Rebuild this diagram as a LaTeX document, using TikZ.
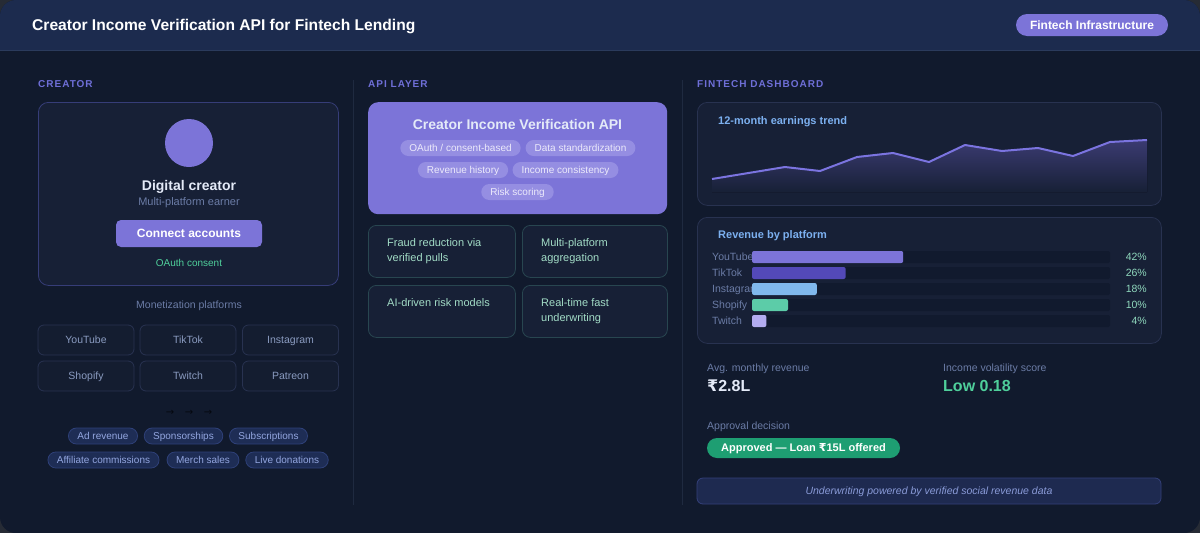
\documentclass[tikz,border=0pt]{standalone}
\usepackage{fontspec}
\setmainfont{Liberation Sans}
\newfontfamily\capsfont[LetterSpace=10]{Liberation Sans}
\newfontfamily\symfont{DejaVu Sans}
\usetikzlibrary{positioning}

\newcommand{\inr}{{\symfont ₹}}
\newcommand{\cursz}{10}
% set size and remember it, so the text height of the node follows it
\newcommand{\sz}[1]{\fontsize{#1}{#1}\selectfont\gdef\cursz{#1}}

\definecolor{outerbg}{HTML}{262B35}
\definecolor{panelbg}{HTML}{111A2D}
\definecolor{headbg}{HTML}{1C2B4E}
\definecolor{headline}{HTML}{2B3B5C}
\definecolor{cardbg}{HTML}{172036}
\definecolor{cardline}{HTML}{283250}
\definecolor{creatorline}{HTML}{363D78}
\definecolor{purple}{HTML}{7C74D8}
\definecolor{chipbg}{HTML}{958EE2}
\definecolor{chiptext}{HTML}{ECEAFB}
\definecolor{seccol}{HTML}{6F6FD8}
\definecolor{muted}{HTML}{6B7CA6}
\definecolor{softwhite}{HTML}{E4EAF8}
\definecolor{okgreen}{HTML}{4FCF9B}
\definecolor{divider}{HTML}{1F2A40}
\definecolor{platbg}{HTML}{141D30}
\definecolor{plattext}{HTML}{8A9BC0}
\definecolor{tagbg}{HTML}{1E2D55}
\definecolor{tagline}{HTML}{2E4078}
\definecolor{tagtext}{HTML}{93A6E0}
\definecolor{featline}{HTML}{284650}
\definecolor{feattext}{HTML}{A2DCC6}
\definecolor{cardtitle}{HTML}{7CB0F0}
\definecolor{trendline}{HTML}{7B74E0}
\definecolor{trendtop}{HTML}{3B3B72}
\definecolor{trackbg}{HTML}{111A2E}
\definecolor{barA}{HTML}{7C74D8}
\definecolor{barB}{HTML}{5349B8}
\definecolor{barC}{HTML}{80B8EC}
\definecolor{barD}{HTML}{5CCCA8}
\definecolor{barE}{HTML}{B3ACF0}
\definecolor{pctcol}{HTML}{8FD8BD}
\definecolor{approve}{HTML}{1E9E72}
\definecolor{footbg}{HTML}{1E2A50}
\definecolor{footline}{HTML}{34407A}
\definecolor{foottext}{HTML}{8A9BD8}
\definecolor{arrowcol}{HTML}{05080F}

\tikzset{
  seclabel/.style={anchor=west, inner sep=0pt, text=seccol, font=\capsfont\bfseries\sz{10}},
  card/.style={draw=cardline, fill=cardbg, rounded corners=10pt, line width=0.8pt, anchor=north west, inner sep=0pt},
  platbox/.style={draw=cardline, fill=platbg, rounded corners=6pt, line width=0.8pt,
    minimum width=96pt, minimum height=30pt, text=plattext, font=\sz{10.5}},
  tagpill/.style={draw=tagline, fill=tagbg, rounded corners=8pt, line width=0.8pt,
    minimum height=16pt, inner xsep=9pt, inner ysep=0pt, text=tagtext, font=\sz{10}},
  chip/.style={fill=chipbg, rounded corners=8pt, minimum height=16pt, inner xsep=9pt,
    inner ysep=0pt, text=chiptext, font=\sz{10}},
  featbox/.style={draw=featline, fill=cardbg, rounded corners=8pt, line width=0.8pt,
    minimum width=147pt, minimum height=52pt, anchor=north west, inner sep=0pt},
  feattext/.style={anchor=north west, inner sep=0pt, align=left, text height=, text depth=,
    text=feattext, font=\fontsize{11}{15}\selectfont},
  plain/.style={anchor=west, inner sep=0pt},
  track/.style={fill=trackbg, rounded corners=2pt},
}

\begin{document}
\begin{tikzpicture}[x=1pt, y=-1pt,
    every node/.append style={text height=\dimexpr\cursz pt*72/100\relax, text depth=0pt}]
  % page and header
  \fill[outerbg] (0,0) rectangle (1200,533);
  \begin{scope}
    \clip[rounded corners=16pt] (0,0) rectangle (1200,533);
    \fill[panelbg] (0,0) rectangle (1200,533);
    \fill[headbg] (0,0) rectangle (1200,50);
    \draw[headline, line width=1pt] (0,50.5) -- (1200,50.5);
  \end{scope}
  \node[plain, text=white, font=\bfseries\sz{15.6}] (title) at (32,25) {Creator Income Verification API for Fintech Lending};
  \node[fill=purple, rounded corners=11pt, minimum width=152pt, minimum height=22pt, inner sep=0pt,
        text=white, font=\bfseries\sz{12}] (badge) at (1092,25) {Fintech Infrastructure};

  % columns
  \node[seclabel] (seccreator) at (38,84) {CREATOR};
  \node[seclabel] (secapi) at (368,84) {API LAYER};
  \node[seclabel] (secdash) at (697,84) {FINTECH DASHBOARD};
  \draw[divider, line width=1pt] (353,80) -- (353,505);
  \draw[divider, line width=1pt] (682,80) -- (682,505);

  % creator card
  \node[card, draw=creatorline, minimum width=300pt, minimum height=183pt] (creatorcard) at (38,102) {};
  \fill[purple] (189,143) circle (24pt);
  \node[text=softwhite, font=\bfseries\sz{14}] (creatorname) at (189,185) {Digital creator};
  \node[text=muted, font=\sz{11}] (creatorsub) at (189,202) {Multi-platform earner};
  \node[fill=purple, rounded corners=5pt, minimum width=146pt, minimum height=27pt, inner sep=0pt,
        text=white, font=\bfseries\sz{12}] (connect) at (189,233.5) {Connect accounts};
  \node[text=okgreen, font=\sz{10}] (oauth) at (189,263) {OAuth consent};

  % platforms
  \node[text=muted, font=\sz{10.5}] (monlabel) at (189,305) {Monetization platforms};
  \foreach \name/\px/\py [count=\i] in {YouTube/86/340, TikTok/188/340, Instagram/290.5/340,
                                        Shopify/86/376, Twitch/188/376, Patreon/290.5/376}
    \node[platbox] (plat\i) at (\px,\py) {\name};
  \foreach \ax [count=\i] in {170,189,208}
    \node[text=arrowcol, font=\symfont\sz{10}, inner sep=0pt] (flow\i) at (\ax,412) {→};

  % revenue streams
  \node[tagpill] (tag1) at (103,436) {Ad revenue};
  \node[tagpill] (tag2) at (183.5,436) {Sponsorships};
  \node[tagpill] (tag3) at (268.5,436) {Subscriptions};
  \node[tagpill] (tag4) at (103.5,460) {Affiliate commissions};
  \node[tagpill] (tag5) at (203,460) {Merch sales};
  \node[tagpill] (tag6) at (287,460) {Live donations};

  % api layer
  \node[fill=purple, rounded corners=10pt, anchor=north west, minimum width=299pt, minimum height=112pt,
        inner sep=0pt] (apibox) at (368,102) {};
  \node[text=softwhite, font=\bfseries\sz{14}] (apititle) at (517.5,124) {Creator Income Verification API};
  \node[chip] (chip1) at (460.5,148) {OAuth / consent-based};
  \node[chip] (chip2) at (580.5,148) {Data standardization};
  \node[chip] (chip3) at (463,170) {Revenue history};
  \node[chip] (chip4) at (565.5,170) {Income consistency};
  \node[chip] (chip5) at (517.5,192) {Risk scoring};

  \node[featbox] (feat1) at (368,225) {};
  \node[featbox, minimum width=145pt] (feat2) at (522,225) {};
  \node[featbox] (feat3) at (368,285) {};
  \node[featbox, minimum width=145pt] (feat4) at (522,285) {};
  \node[feattext] (feat1txt) at (387,238.5) {Fraud reduction via\\verified pulls};
  \node[feattext] (feat2txt) at (541,238.5) {Multi-platform\\aggregation};
  \node[feattext] (feat3txt) at (387,298.5) {AI-driven risk models};
  \node[feattext] (feat4txt) at (541,298.5) {Real-time fast\\underwriting};

  % dashboard: trend
  \node[card, minimum width=464pt, minimum height=103pt] (trendcard) at (697,102) {};
  \node[plain, text=cardtitle, font=\bfseries\sz{11}] (trendtitle) at (718,121) {12-month earnings trend};
  \fill[top color=trendtop, bottom color=cardbg] (712,192) -- plot coordinates {(712,179) (785,167) (820,171)
    (857,157) (893,153) (929,162) (965,145) (1002,151) (1038,148) (1073,156) (1110,142) (1147,140)}
    -- (1147,192) -- cycle;
  \draw[trendline, line width=2pt, line join=round] plot coordinates {(712,179) (785,167) (820,171)
    (857,157) (893,153) (929,162) (965,145) (1002,151) (1038,148) (1073,156) (1110,142) (1147,140)};

  % dashboard: revenue by platform
  \node[card, minimum width=464pt, minimum height=126pt] (revcard) at (697,217) {};
  \node[plain, text=cardtitle, font=\bfseries\sz{11}] (revtitle) at (718,235) {Revenue by platform};
  \foreach \name/\pct/\col [count=\i] in {YouTube/42/barA, TikTok/26/barB, Instagram/18/barC,
                                         Shopify/10/barD, Twitch/4/barE} {
    \pgfmathsetmacro{\yy}{241+16*\i}
    \node[plain, text=muted, font=\sz{10.5}] (rev\i) at (712,\yy) {\name};
    \fill[track] (752,\yy-6) rectangle (1110,\yy+6);
    \fill[\col, rounded corners=2pt] (752,\yy-6) rectangle ({752+3.6*\pct},\yy+6);
    \node[anchor=east, inner sep=0pt, text=pctcol, font=\sz{10.5}] (pct\i) at (1147,\yy) {\pct\%};
  }

  % dashboard: scores
  \node[plain, text=muted, font=\sz{10.5}] (avglabel) at (707,368) {Avg. monthly revenue};
  \node[plain, text=softwhite, font=\bfseries\sz{16}] (avgvalue) at (707,386) {\inr2.8L};
  \node[plain, text=muted, font=\sz{10.5}] (vollabel) at (943,368) {Income volatility score};
  \node[plain, text=okgreen, font=\bfseries\sz{16}] (volvalue) at (943,386) {Low 0.18};
  \node[plain, text=muted, font=\sz{10.5}] (approvelabel) at (707,426) {Approval decision};
  \node[fill=approve, rounded corners=10pt, minimum width=193pt, minimum height=20pt, inner sep=0pt,
        text=white, font=\bfseries\sz{11}] (approval) at (803.5,448) {Approved — Loan \inr15L offered};
  \node[draw=footline, fill=footbg, rounded corners=6pt, line width=0.8pt, minimum width=464pt,
        minimum height=26pt, inner sep=0pt, text=foottext, font=\itshape\sz{10.5}] (footnote) at (929,491)
        {Underwriting powered by verified social revenue data};
\end{tikzpicture}
\end{document}
